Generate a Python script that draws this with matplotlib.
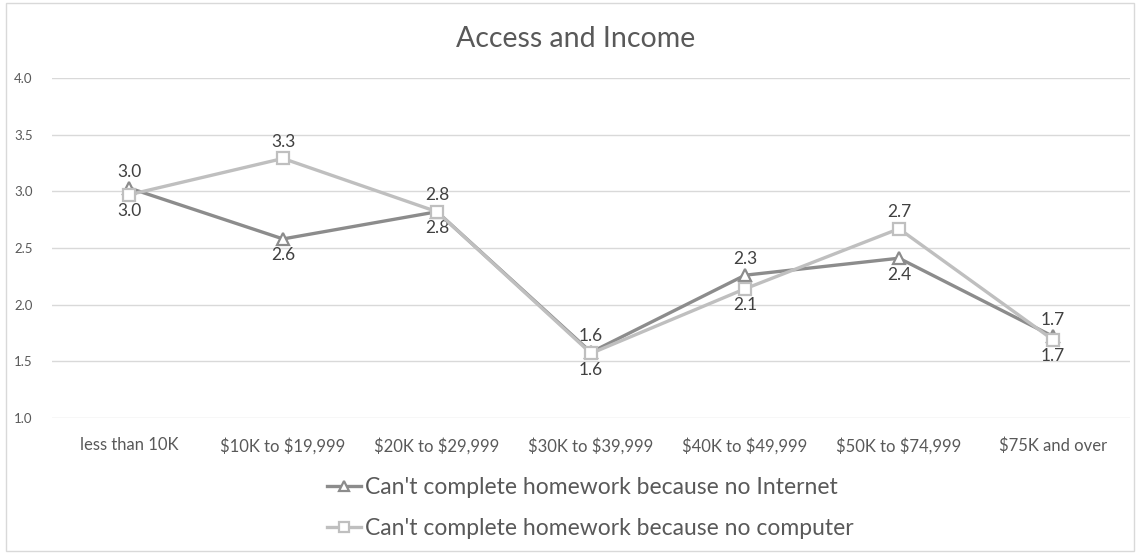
import matplotlib.pyplot as plt
from matplotlib.patches import Rectangle
import numpy as np

plt.rcParams['font.family'] = ['Lato', 'DejaVu Sans']
plt.rcParams['text.parse_math'] = False

categories = ['less than 10K', '$10K to $19,999', '$20K to $29,999', '$30K to $39,999',
              '$40K to $49,999', '$50K to $74,999', '$75K and over']
no_internet = [3.03, 2.58, 2.82, 1.58, 2.26, 2.41, 1.72]
no_computer = [2.97, 3.29, 2.82, 1.57, 2.14, 2.67, 1.69]
y_ticks = [1.0, 1.5, 2.0, 2.5, 3.0, 3.5, 4.0]

W, H = 1140, 554
fig = plt.figure(figsize=(W / 100, H / 100), dpi=100)
fig.patches.append(Rectangle((6 / W, 3 / H), 1128 / W, 548 / H, transform=fig.transFigure,
                             fill=False, edgecolor='#d9d9d9', linewidth=1))

ax = fig.add_axes([52 / W, 136 / H, 1078 / W, 340 / H])
x = np.arange(len(categories))

ax.plot(x, no_internet, color='#8c8c8c', lw=2.4, marker='^', ms=9, mfc='white',
        mec='#8c8c8c', mew=1.6, label="Can't complete homework because no Internet", zorder=3)
ax.plot(x, no_computer, color='#bfbfbf', lw=2.4, marker='s', ms=9, mfc='white',
        mec='#bfbfbf', mew=1.6, label="Can't complete homework because no computer", zorder=4)

# higher value gets its label above the point, lower one below
for i in x:
    a, b = no_internet[i], no_computer[i]
    for v, up in [(a, a >= b), (b, b > a)]:
        ax.annotate(f'{v:.1f}', (i, v), xytext=(0, 6 if up else -6), textcoords='offset points',
                    ha='center', va='bottom' if up else 'top', fontsize=12.5, color='#404040')

ax.set_xlim(-0.5, len(categories) - 0.5)
ax.set_ylim(1.0, 4.0)
ax.set_yticks(y_ticks)
ax.set_yticklabels([f'{t:.1f}' for t in y_ticks])
ax.set_xticks(x)
ax.set_xticklabels(categories)
ax.tick_params(axis='y', length=0, pad=14, labelsize=9.5, labelcolor='#595959')
ax.tick_params(axis='x', length=0, pad=14, labelsize=12, labelcolor='#595959')
ax.grid(axis='y', color='#d9d9d9', lw=1)
ax.set_axisbelow(True)
for s in ax.spines.values():
    s.set_visible(False)

fig.text(576 / W, 1 - 39 / H, 'Access and Income', ha='center', va='center',
         fontsize=20.5, color='#595959')

fig.legend(loc='center', bbox_to_anchor=(590 / W, 1 - 508 / H), frameon=False,
           fontsize=16.5, labelcolor='#595959', handlelength=1.5, handletextpad=0.15,
           labelspacing=0.85, markerscale=0.75)

fig.savefig('out.png', dpi=100)
